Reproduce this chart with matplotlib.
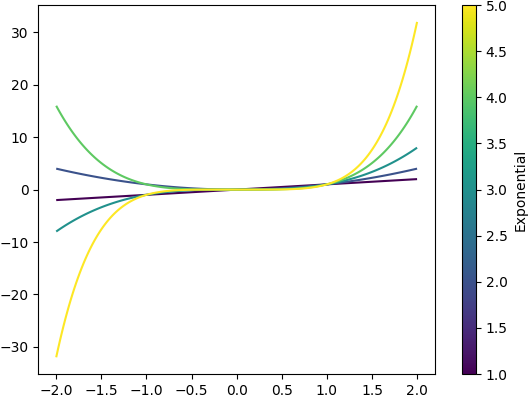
import numpy as np
import matplotlib
matplotlib.use("Agg")
import matplotlib.pyplot as plt
from matplotlib.collections import LineCollection

# exponents of the curves y = x**n shown in the chart
exponents = [1, 2, 3, 4, 5]
x_start, x_end, n_points = -2.0, 2.0, 200

x = np.linspace(x_start, x_end, n_points)
segments = [np.column_stack([x, x ** n]) for n in exponents]

fig = plt.figure(figsize=(5.3, 3.95), dpi=100)
ax = fig.add_axes([0.072, 0.053, 0.749, 0.934])
cax = fig.add_axes([0.872, 0.053, 0.026, 0.934])

lc = LineCollection(segments, array=np.array(exponents, dtype=float), cmap="viridis")
ax.add_collection(lc)
ax.autoscale_view()

fig.colorbar(lc, cax=cax, label="Exponential")

fig.savefig("out.png")
